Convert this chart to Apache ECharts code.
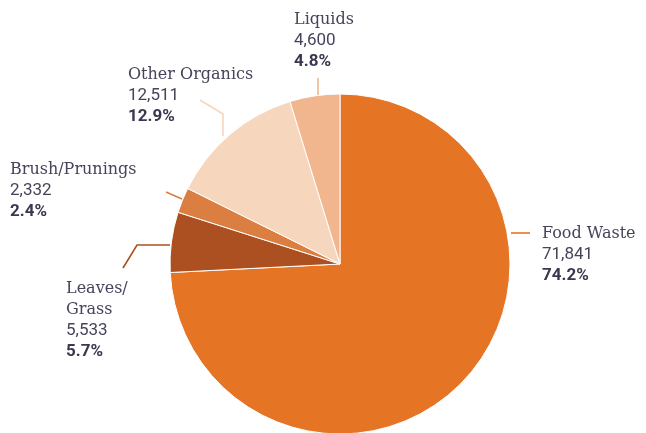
<!DOCTYPE html>
<html><head><meta charset="utf-8">
<script src="https://cdn.jsdelivr.net/npm/echarts@6/dist/echarts.min.js"></script>
<style>html,body{margin:0;padding:0;background:#fff}#c{width:646px;height:433px}</style>
</head><body><div id="c"></div>
<script>
const categories = ['Food Waste', 'Leaves/\nGrass', 'Brush/Prunings', 'Other Organics', 'Liquids'];
const values = [71841, 5533, 2332, 12511, 4600];
const colors = ['#E67425', '#AC5021', '#DB7E42', '#F7D6BE', '#F2B68E'];

// label placement (top-left of text block) and leader line points, per slice
const labelPos = [
  {x: 542, y: 223, line: [[511,233],[521,233],[530,233]]},
  {x: 66,  y: 278, line: [[170,245],[137,245],[123,268]]},
  {x: 10,  y: 159, line: [[182,199],[174,195.5],[166,192]]},
  {x: 128, y: 64,  line: [[223,136],[223,114],[200,100]]},
  {x: 294, y: 9,   line: [[318,96],[318,87],[318,78]]}
];

const total = values.reduce((a, b) => a + b, 0);
const chart = echarts.init(document.getElementById('c'), null, {renderer: 'canvas'});
chart.setOption({
  backgroundColor: '#fff',
  animation: false,
  series: [{
    type: 'pie',
    center: [340, 264],
    radius: 170,
    startAngle: 90,
    clockwise: true,
    avoidLabelOverlap: false,
    itemStyle: {borderColor: '#fff', borderWidth: 1},
    data: categories.map((c, i) => ({name: c, value: values[i], itemStyle: {color: colors[i]}})),
    label: {
      show: true,
      position: 'outside',
      formatter: p => {
        const nameLines = p.name.split('\n').map(s => '{n|' + s + '}').join('\n');
        return nameLines + '\n{v|' + p.value.toLocaleString('en-US') + '}\n{p|' + (p.value / total * 100).toFixed(1) + '%}';
      },
      rich: {
        n: {fontFamily: 'DejaVu Serif', fontSize: 16, color: '#46435a', lineHeight: 21},
        v: {fontFamily: 'Roboto', fontSize: 17, color: '#46435a', lineHeight: 21},
        p: {fontFamily: 'Roboto', fontSize: 17, fontWeight: 'bold', color: '#3a3850', lineHeight: 21}
      }
    },
    labelLine: {show: true, lineStyle: {width: 1.6}},
    labelLayout: params => {
      const lp = labelPos[params.dataIndex];
      return {x: lp.x, y: lp.y, align: 'left', verticalAlign: 'top', labelLinePoints: lp.line};
    }
  }]
});
</script></body></html>
